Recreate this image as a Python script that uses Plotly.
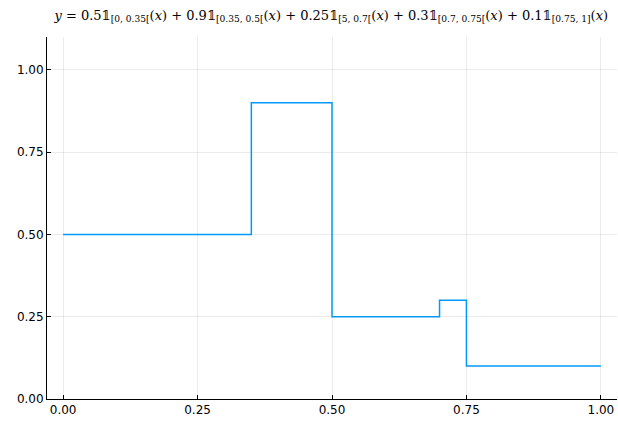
import plotly.graph_objects as go

breaks = [0.0, 0.35, 0.5, 0.7, 0.75, 1.0]
levels = [0.5, 0.9, 0.25, 0.3, 0.1]
tick_vals = [0.0, 0.25, 0.5, 0.75, 1.0]
tick_text = ["0.00", "0.25", "0.50", "0.75", "1.00"]

ys = levels + [levels[-1]]

title = ("<i>y</i> = 0.5𝟙<sub>[0, 0.35[</sub>(<i>x</i>) + 0.9𝟙<sub>[0.35, 0.5[</sub>(<i>x</i>)"
         " + 0.25𝟙<sub>[5, 0.7[</sub>(<i>x</i>) + 0.3𝟙<sub>[0.7, 0.75[</sub>(<i>x</i>)"
         " + 0.1𝟙<sub>[0.75, 1]</sub>(<i>x</i>)")

fig = go.Figure(go.Scatter(x=breaks, y=ys, mode="lines", line_shape="hv",
                           line=dict(color="#009AFA", width=1.5), showlegend=False))

axis_common = dict(showgrid=True, gridcolor="rgba(0,0,0,0.08)", gridwidth=0.5,
                   showline=True, linecolor="black", linewidth=1, ticks="inside",
                   ticklen=4, tickcolor="black", zeroline=False, mirror=False,
                   automargin=False,
                   tickfont=dict(family="DejaVu Sans", size=12, color="black"))

fig.update_xaxes(range=[-0.03, 1.03], tickvals=tick_vals, ticktext=tick_text, **axis_common)
fig.update_yaxes(range=[0, 1.1], tickvals=tick_vals, ticktext=tick_text, **axis_common)

fig.update_layout(
    width=618, height=424,
    margin=dict(l=47, r=1, t=37, b=25),
    plot_bgcolor="white", paper_bgcolor="white",
    title=dict(text=title, x=0.536, xanchor="center", y=0.975, yanchor="top",
               automargin=False,
               font=dict(family="DejaVu Serif", size=13, color="black")),
)

fig.write_html("out.html", config={"displayModeBar": False},
               post_script="document.body.style.margin='0px';")
